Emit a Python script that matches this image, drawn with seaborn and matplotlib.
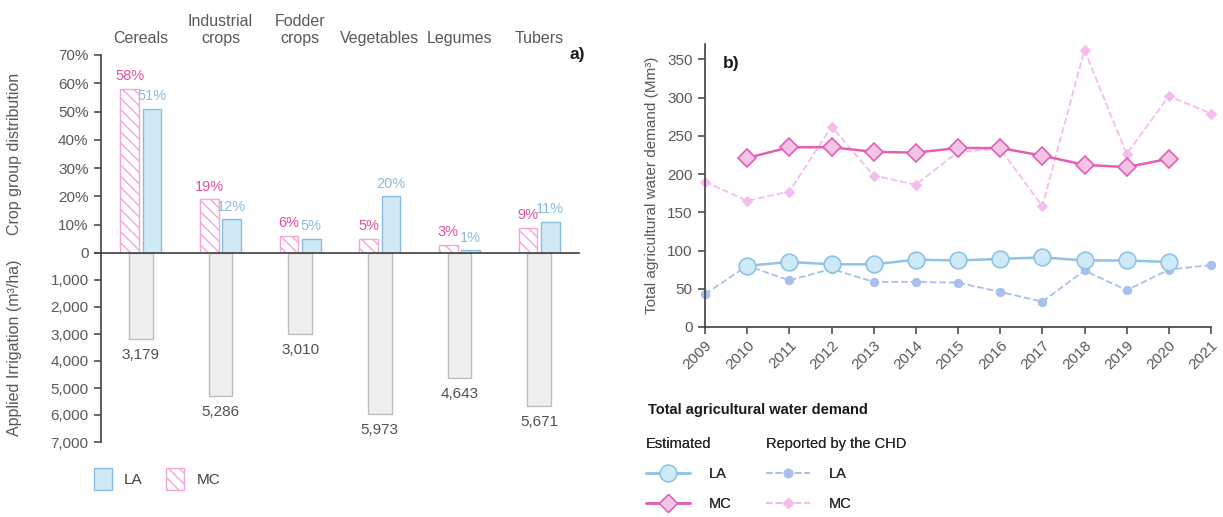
import numpy as np
import pandas as pd
import matplotlib
matplotlib.use("Agg")
import matplotlib.pyplot as plt
import seaborn as sns
from matplotlib.lines import Line2D
from matplotlib.patches import Patch

sns.set_theme(style="white")
plt.rcParams['font.family'] = ['Liberation Sans', 'DejaVu Sans']
plt.rcParams['hatch.linewidth'] = 1.0

# ---------------- data ----------------
crops = ["Cereals", "Industrial\ncrops", "Fodder\ncrops", "Vegetables", "Legumes", "Tubers"]
share_mc = [58, 19, 6, 5, 3, 9]
share_la = [51, 12, 5, 20, 1, 11]
irrigation = [3179, 5286, 3010, 5973, 4643, 5671]

years_est = [2010, 2011, 2012, 2013, 2014, 2015, 2016, 2017, 2018, 2019, 2020]
est_la = [80, 85, 82, 82, 88, 87, 89, 91, 87, 87, 85]
est_mc = [221, 235, 235, 229, 228, 234, 234, 224, 212, 209, 220]
years_rep = [2009, 2010, 2011, 2012, 2013, 2014, 2015, 2016, 2017, 2018, 2019, 2020, 2021]
rep_la = [43, 80, 61, 76, 59, 59, 58, 46, 33, 74, 48, 75, 81]
rep_mc = [190, 165, 177, 262, 198, 186, 229, 233, 158, 362, 226, 302, 279]

# ---------------- colours ----------------
TXT = "#595959"
LA_FACE, LA_EDGE, LA_TXT = "#cfe9f5", "#88bde0", "#8fb9dd"
MC_EDGE, MC_TXT = "#f5a6d8", "#e5509f"
GR_FACE, GR_EDGE = "#efefef", "#bdbdbd"
EST_LA_LINE, EST_LA_FACE = "#8fc3e3", "#cdeaf6"
EST_MC_LINE, EST_MC_FACE = "#e35fb5", "#f2c4e6"
REP_LA = "#a9c0ea"
REP_MC = "#f5bdee"

W, H = 1223, 517
fig = plt.figure(figsize=(W / 100, H / 100), dpi=100)

def fx(px):
    return px / W

def fy(py):
    return 1 - py / H

# ---------------- panel a (top) ----------------
ax_t = fig.add_axes([fx(101), fy(253), fx(579) - fx(101), fy(55) - fy(253)])
ax_b = fig.add_axes([fx(101), fy(442), fx(579) - fx(101), fy(253) - fy(442)])

df_share = pd.DataFrame({
    "crop": crops * 2,
    "share": share_mc + share_la,
    "region": ["MC"] * len(crops) + ["LA"] * len(crops),
})
sns.barplot(data=df_share, x="crop", y="share", hue="region", hue_order=["MC", "LA"],
            order=crops, width=0.56, gap=0.15, ax=ax_t, legend=False,
            palette={"MC": "white", "LA": LA_FACE}, saturation=1)
for p in ax_t.containers[0]:
    p.set_facecolor("white")
    p.set_edgecolor(MC_EDGE)
    p.set_hatch("\\\\\\")
    p.set_linewidth(1.0)
for p in ax_t.containers[1]:
    p.set_edgecolor(LA_EDGE)
    p.set_linewidth(1.0)
ax_t.bar_label(ax_t.containers[0], labels=[f"{v}%" for v in share_mc], padding=4,
               color=MC_TXT, fontsize=10.5)
ax_t.bar_label(ax_t.containers[1], labels=[f"{v}%" for v in share_la], padding=4,
               color=LA_TXT, fontsize=10.5)
ax_t.set_xlim(-0.5, 5.5)
ax_t.set_ylim(0, 70)
ax_t.set_yticks(range(0, 71, 10))
ax_t.set_yticklabels(["0"] + [f"{v}%" for v in range(10, 71, 10)])
ax_t.set_xticks([])
ax_t.set_xlabel("")
ax_t.set_ylabel("Crop group distribution", color=TXT, fontsize=11.5)
ax_t.yaxis.set_label_coords(-0.165, 0.5)
for s in ["top", "right"]:
    ax_t.spines[s].set_visible(False)
for s in ["left", "bottom"]:
    ax_t.spines[s].set_color("#404040")
    ax_t.spines[s].set_linewidth(1.2)
ax_t.tick_params(axis="y", left=True, length=5, width=1.1, color="#404040",
                 labelcolor=TXT, labelsize=11, pad=4)
for i, c in enumerate(crops):
    ax_t.text(i, 1.045, c, transform=ax_t.get_xaxis_transform(), ha="center", va="bottom",
              color=TXT, fontsize=11.5, linespacing=1.15)
ax_t.text(1.012, 1.0, "a)", transform=ax_t.transAxes, ha="right", va="center",
          fontsize=12.5, fontweight="bold", color="#1a1a1a")

# ---------------- panel a (bottom) ----------------
df_irr = pd.DataFrame({"crop": crops, "irr": irrigation})
sns.barplot(data=df_irr, x="crop", y="irr", order=crops, width=0.3, ax=ax_b,
            color=GR_FACE, saturation=1, edgecolor=GR_EDGE, linewidth=1.0)
for i, v in enumerate(irrigation):
    ax_b.annotate(f"{v:,}", xy=(i, v), xytext=(0, -11.5), textcoords="offset points",
                  ha="center", va="center", color="#505050", fontsize=11)
ax_b.set_xlim(-0.5, 5.5)
ax_b.set_ylim(7000, 0)
ax_b.set_yticks(range(0, 7001, 1000))
ax_b.set_yticklabels([""] + [f"{v:,}" for v in range(1000, 7001, 1000)])
ax_b.set_xticks([])
ax_b.set_xlabel("")
ax_b.set_ylabel("Applied Irrigation (m³/ha)", color=TXT, fontsize=11.5)
ax_b.yaxis.set_label_coords(-0.165, 0.5)
for s in ["top", "right", "bottom"]:
    ax_b.spines[s].set_visible(False)
ax_b.spines["left"].set_color("#404040")
ax_b.spines["left"].set_linewidth(1.2)
ax_b.tick_params(axis="y", left=True, length=5, width=1.1, color="#404040",
                 labelcolor=TXT, labelsize=11, pad=4)
ax_b.set_zorder(0)
ax_t.set_zorder(1)
ax_t.patch.set_alpha(0)

# legend a
leg_a = fig.legend(handles=[Patch(facecolor=LA_FACE, edgecolor=LA_EDGE, label="LA"),
                            Patch(facecolor="white", edgecolor=MC_EDGE, hatch="\\\\\\", label="MC")],
                   loc="center left", bbox_to_anchor=(fx(86), fy(479)), ncol=2, frameon=False,
                   handlelength=1.2, handleheight=1.8, handletextpad=0.8, columnspacing=1.5,
                   fontsize=11, borderpad=0)
for t in leg_a.get_texts():
    t.set_color("#404040")

# ---------------- panel b ----------------
ax2 = fig.add_axes([fx(705), fy(327), fx(1211) - fx(705), fy(44) - fy(327)])
df_rep = pd.DataFrame({"year": years_rep, "la": rep_la, "mc": rep_mc})
df_est = pd.DataFrame({"year": years_est, "la": est_la, "mc": est_mc})

sns.lineplot(data=df_rep, x="year", y="mc", ax=ax2, color=REP_MC, lw=1.3, linestyle="--",
             marker="D", markersize=5, markerfacecolor=REP_MC, markeredgecolor=REP_MC)
sns.lineplot(data=df_rep, x="year", y="la", ax=ax2, color=REP_LA, lw=1.3, linestyle="--",
             marker="o", markersize=6, markerfacecolor=REP_LA, markeredgecolor=REP_LA)
sns.lineplot(data=df_est, x="year", y="mc", ax=ax2, color=EST_MC_LINE, lw=1.8,
             marker="D", markersize=9, markerfacecolor=EST_MC_FACE, markeredgecolor=EST_MC_LINE,
             markeredgewidth=1.2)
sns.lineplot(data=df_est, x="year", y="la", ax=ax2, color=EST_LA_LINE, lw=1.8,
             marker="o", markersize=12, markerfacecolor=EST_LA_FACE, markeredgecolor=EST_LA_LINE,
             markeredgewidth=1.2)
for ln in ax2.lines:
    ln.set_clip_on(False)

ax2.set_xlim(2009, 2021)
ax2.set_ylim(0, 370)
ax2.set_yticks(range(0, 351, 50))
ax2.set_xticks(years_rep)
ax2.set_xticklabels([str(y) for y in years_rep], rotation=45, ha="right", rotation_mode="anchor")
ax2.set_xlabel("")
ax2.set_ylabel("Total agricultural water demand (Mm³)", color=TXT, fontsize=11)
ax2.yaxis.set_label_coords(-0.09, 0.5)
for s in ["top", "right"]:
    ax2.spines[s].set_visible(False)
for s in ["left", "bottom"]:
    ax2.spines[s].set_color("#404040")
    ax2.spines[s].set_linewidth(1.2)
ax2.tick_params(axis="both", length=5, width=1.1, color="#404040", labelcolor=TXT,
                labelsize=11)
ax2.tick_params(axis="y", left=True, pad=4)
ax2.tick_params(axis="x", bottom=True, pad=3)
ax2.text(0.035, 0.93, "b)", transform=ax2.transAxes, ha="left", va="center",
         fontsize=12.5, fontweight="bold", color="#1a1a1a")

# legend b
fig.text(fx(648), fy(410), "Total agricultural water demand", ha="left", va="center",
         fontsize=10.5, fontweight="bold", color="#1a1a1a")
h_est = [Line2D([], [], color=EST_LA_LINE, lw=1.8, marker="o", markersize=12,
                markerfacecolor=EST_LA_FACE, markeredgecolor=EST_LA_LINE, label="LA"),
         Line2D([], [], color=EST_MC_LINE, lw=1.8, marker="D", markersize=9,
                markerfacecolor=EST_MC_FACE, markeredgecolor=EST_MC_LINE, label="MC")]
h_rep = [Line2D([], [], color=REP_LA, lw=1.3, ls="--", marker="o", markersize=6,
                markerfacecolor=REP_LA, markeredgecolor=REP_LA, label="LA"),
         Line2D([], [], color=REP_MC, lw=1.3, ls="--", marker="D", markersize=5,
                markerfacecolor=REP_MC, markeredgecolor=REP_MC, label="MC")]
for handles, title, xpx in [(h_est, "Estimated", 646), (h_rep, "Reported by the CHD", 766)]:
    lg = fig.legend(handles=handles, title=title, loc="upper left",
                    bbox_to_anchor=(fx(xpx), fy(437)), frameon=False, fontsize=10.5,
                    title_fontsize=10.5, handlelength=3.0, handletextpad=1.3,
                    labelspacing=1.1, borderpad=0, borderaxespad=0)
    lg._legend_box.align = "left"
    lg.get_title().set_color("#262626")
    for t in lg.get_texts():
        t.set_color("#262626")
    fig.add_artist(lg)

fig.savefig("out.png", dpi=100)
